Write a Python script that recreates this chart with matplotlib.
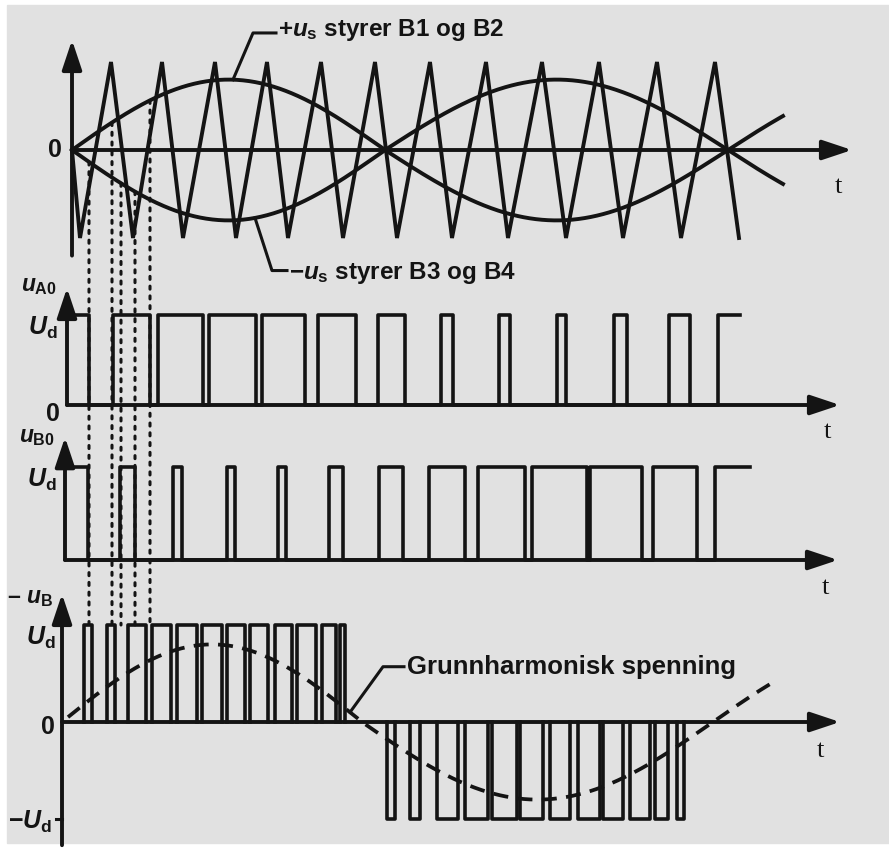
import numpy as np
import matplotlib
matplotlib.use('Agg')
import matplotlib.pyplot as plt
from matplotlib.patches import ConnectionPatch, Rectangle

plt.rcParams['font.family'] = ['Liberation Sans', 'DejaVu Sans']
plt.rcParams['font.weight'] = 'bold'
plt.rcParams['mathtext.fontset'] = 'custom'
plt.rcParams['mathtext.rm'] = 'Liberation Sans:bold'
plt.rcParams['mathtext.it'] = 'Liberation Sans:italic:bold'
plt.rcParams['mathtext.bf'] = 'Liberation Sans:bold'

# ---------------- data (common time axis t, arbitrary units) ----------------
# triangular carrier: vertex times and values
carrier_t = [5, 13, 44, 66, 95, 116, 148, 169, 200, 221, 254, 276, 308,
             330, 363, 385, 419, 441, 475, 499, 532, 556, 590, 614, 648, 672]
carrier_v = [0, -1, 1, -1, 1, -1, 1, -1, 1, -1, 1, -1, 1,
             -1, 1, -1, 1, -1, 1, -1, 1, -1, 1, -1, 1, -1]

# control voltage +us / -us : zero crossings, amplitude, end
ref_zeros = [5, 318, 661]
ref_amp = 0.8
ref_end = 716

# uA0 pulses (start, end); first starts high at axis, last is open
uA0_pulses = [(0, 22), (46, 83), (91, 136), (142, 189), (195, 238), (251, 289),
              (311, 338), (374, 386), (432, 443), (490, 499), (547, 560),
              (602, 623), (651, 673)]
# uB0 pulses
uB0_pulses = [(-2, 21), (53, 68), (106, 115), (160, 168), (211, 219), (262, 276),
              (312, 336), (362, 398), (411, 458), (465, 520), (523, 575),
              (586, 630), (648, 683)]
# uB pulses (positive half, negative half)
uB_pos = [(17, 25), (40, 48), (61, 79), (85, 104), (110, 130), (135, 155),
          (160, 178), (183, 201), (208, 225), (230, 249), (255, 269), (273, 278)]
uB_neg = [(320, 328), (343, 353), (370, 391), (398, 421), (425, 450), (453, 476),
          (483, 503), (511, 533), (536, 556), (563, 583), (588, 601), (610, 617)]

# fundamental of uB
fund_zeros = [-5, 295, 646]
fund_amp = 0.8
fund_start, fund_end = 1, 706

# dotted switching instants and which control curve (+1 => +us, -1 => -us)
dotted_t = [22, 45, 54, 68, 83]
dotted_ref = [-1, 1, -1, -1, 1]

INK = '#141414'
W, H = 889, 855


def sine_from_zeros(t, zeros, amp):
    t = np.atleast_1d(np.asarray(t, float))
    half = np.diff(zeros)
    phase = np.interp(t, zeros, np.pi * np.arange(len(zeros)))
    over = t > zeros[-1]
    phase[over] = np.pi * (len(zeros) - 1) + np.pi * (t[over] - zeros[-1]) / half[-1]
    return amp * np.sin(phase)


fig = plt.figure(figsize=(W / 100, H / 100), dpi=100, facecolor='white')
fig.patches.append(Rectangle((7 / W, 12 / H), 1 - 7 / W, 1 - 17 / H,
                             transform=fig.transFigure, color='#e1e1e1', zorder=-10))


def make_ax(top, bottom, y0, unit):
    ax = fig.add_axes([0, 1 - bottom / H, 1, (bottom - top) / H])
    ax.set_xlim(-67, W - 67)
    ax.set_ylim((y0 - bottom) / unit, (y0 - top) / unit)
    ax.axis('off')
    ax.patch.set_alpha(0)
    return ax


def arrow(ax, x0, y0, x1, y1):
    ax.annotate('', xy=(x1, y1), xytext=(x0, y0),
                arrowprops=dict(arrowstyle='-|>,head_length=0.9,head_width=0.3',
                                lw=2.8, color=INK, mutation_scale=20,
                                shrinkA=0, shrinkB=0))


def pulse_path(pulses, level, first_open=True, last_open=True):
    xs, ys = [], []
    n = len(pulses)
    for i, (a, b) in enumerate(pulses):
        if i == 0 and first_open:
            xs += [a, b, b]; ys += [level, level, 0]
        elif i == n - 1 and last_open:
            xs += [a, a, b]; ys += [0, level, level]
        else:
            xs += [a, a, b, b]; ys += [0, level, level, 0]
    return xs, ys


LW = 2.8
PLW = 2.6
tfont = dict(family=['Liberation Serif', 'DejaVu Serif'], fontweight='normal',
             fontsize=19, color=INK)
lfont = dict(fontsize=17.5, color=INK)
afont = dict(fontsize=16.5, color=INK)

# ---------------- panel 1: carrier and control voltages ----------------
ax1 = make_ax(0, 300, 150, 88)
arrow(ax1, 5, 0, 785, 0)
arrow(ax1, 5, -1.2, 5, 1.25)
ax1.plot(carrier_t, carrier_v, color=INK, lw=LW, solid_joinstyle='miter')
ts = np.linspace(ref_zeros[0], ref_end, 700)
us = sine_from_zeros(ts, ref_zeros, ref_amp)
ax1.plot(ts, us, color=INK, lw=LW)
ax1.plot(ts, -us, color=INK, lw=LW)
ax1.text(-12, 0, '0', ha='center', va='center', fontsize=18, color=INK)
ax1.text(771, -0.42, 't', ha='center', va='center', **tfont)

ax1.text(211, 1.36, r'$+u_{\mathrm{s}}$ styrer B1 og B2', ha='left', va='center', **lfont)
p_up = sine_from_zeros(166, ref_zeros, ref_amp)[0]
ax1.plot([209, 186, 166], [1.33, 1.33, p_up], color=INK, lw=2.2)
ax1.text(222, -1.40, r'$-u_{\mathrm{s}}$ styrer B3 og B4', ha='left', va='center', **lfont)
p_dn = -sine_from_zeros(188, ref_zeros, ref_amp)[0]
ax1.plot([188, 205, 220], [p_dn, -1.37, -1.37], color=INK, lw=2.2)

# ---------------- panel 2: uA0 ----------------
ax2 = make_ax(270, 440, 405, 90)
arrow(ax2, 0, 0, 773, 0)
arrow(ax2, 0, 0, 0, 1.3)
x, y = pulse_path(uA0_pulses, 1.0)
ax2.plot(x, y, color=INK, lw=PLW, solid_joinstyle='round')
ax2.plot([-6, 0], [1, 1], color=INK, lw=2.2)
ax2.text(-28, 1.33, r'$u_{\mathrm{A0}}$', ha='center', va='center', **afont)
ax2.text(-24, 0.86, r'$U_{\mathrm{d}}$', ha='center', va='center', fontsize=18, color=INK)
ax2.text(-14, -0.1, '0', ha='center', va='center', fontsize=18, color=INK)
ax2.text(760, -0.3, 't', ha='center', va='center', **tfont)

# ---------------- panel 3: uB0 ----------------
ax3 = make_ax(420, 600, 560, 93)
arrow(ax3, -2, 0, 771, 0)
arrow(ax3, -2, 0, -2, 1.32)
x, y = pulse_path(uB0_pulses, 1.0)
ax3.plot(x, y, color=INK, lw=PLW, solid_joinstyle='round')
ax3.plot([-8, -2], [1, 1], color=INK, lw=2.2)
ax3.text(-30, 1.33, r'$u_{\mathrm{B0}}$', ha='center', va='center', **afont)
ax3.text(-25, 0.86, r'$U_{\mathrm{d}}$', ha='center', va='center', fontsize=18, color=INK)
ax3.text(758, -0.3, 't', ha='center', va='center', **tfont)

# ---------------- panel 4: uB ----------------
ax4 = make_ax(580, 855, 722, 97)
arrow(ax4, -5, 0, 773, 0)
arrow(ax4, -5, -1.27, -5, 1.32)
for (a, b) in uB_pos:
    ax4.plot([a, a, b, b], [0, 1, 1, 0], color=INK, lw=PLW, solid_joinstyle='round')
for (a, b) in uB_neg:
    ax4.plot([a, a, b, b], [0, -1, -1, 0], color=INK, lw=PLW, solid_joinstyle='round')
tf = np.linspace(fund_start, fund_end, 700)
ax4.plot(tf, sine_from_zeros(tf, fund_zeros, fund_amp), color=INK, lw=2.7,
         ls=(0, (4, 2.5)))
ax4.plot([-11, -5], [1, 1], color=INK, lw=2.2)
ax4.plot([-11, -5], [-1, -1], color=INK, lw=2.2)
ax4.text(-37, 1.28, r'– $u_{\mathrm{B}}$', ha='center', va='center', **afont)
ax4.text(-26, 0.87, r'$U_{\mathrm{d}}$', ha='center', va='center', fontsize=18, color=INK)
ax4.text(-19, -0.05, '0', ha='center', va='center', fontsize=18, color=INK)
ax4.text(-37, -1.03, r'$-U_{\mathrm{d}}$', ha='center', va='center', fontsize=18, color=INK)
ax4.text(753, -0.3, 't', ha='center', va='center', **tfont)

ax4.text(340, 0.57, 'Grunnharmonisk spenning', ha='left', va='center',
         fontsize=18.5, fontweight='bold', color=INK)
p_f = sine_from_zeros(283, fund_zeros, fund_amp)[0]
ax4.plot([337, 316, 283], [0.57, 0.57, p_f], color=INK, lw=2.2)

# ---------------- dotted switching lines ----------------
for tt, sgn in zip(dotted_t, dotted_ref):
    ytop = sgn * sine_from_zeros(tt, ref_zeros, ref_amp)[0]
    cp = ConnectionPatch(xyA=(tt, ytop), coordsA=ax1.transData,
                         xyB=(tt, 1.0), coordsB=ax4.transData,
                         color=INK, lw=2.2, linestyle=(0, (1, 2.2)))
    fig.add_artist(cp)

fig.savefig('out.png', dpi=100, facecolor=fig.get_facecolor())
